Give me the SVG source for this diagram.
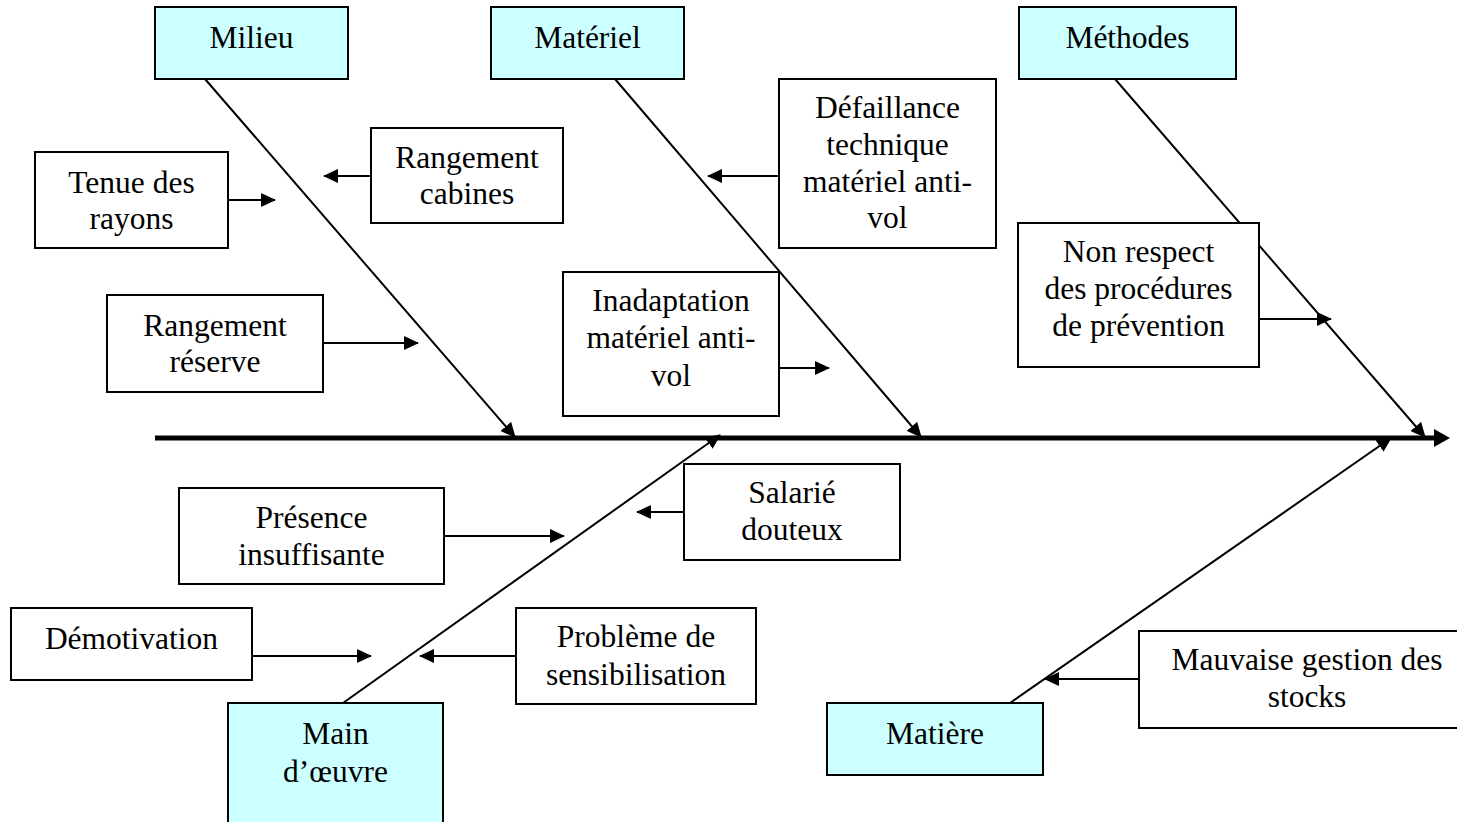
<svg xmlns="http://www.w3.org/2000/svg" width="1457" height="822" viewBox="0 0 1457 822">
<style>
.box{fill:#ffffff;stroke:#000;stroke-width:2}
.cat{fill:#ccffff;stroke:#000;stroke-width:2}
text{font-family:"Liberation Serif","Times New Roman",serif;font-size:31.5px;fill:#000;text-anchor:middle}
.br{stroke:#000;stroke-width:2;fill:none;marker-end:url(#ah)}
.sm{stroke:#000;stroke-width:2;fill:none;marker-end:url(#ah)}
</style>
<defs>
<marker id="ah" markerUnits="userSpaceOnUse" viewBox="0 0 15 14" refX="14" refY="7" markerWidth="15" markerHeight="14" orient="auto"><path d="M0,0 L15,7 L0,14 z" fill="#000"/></marker>
<marker id="big" markerUnits="userSpaceOnUse" viewBox="0 0 16 18" refX="2" refY="9" markerWidth="16" markerHeight="18" orient="auto"><path d="M0,0 L16,9 L0,18 z" fill="#000"/></marker>
</defs>
<rect width="1457" height="822" fill="#fff"/>
<g id="connectors">
<line x1="155" y1="438" x2="1436" y2="438" stroke="#000" stroke-width="5" marker-end="url(#big)"/>
<line class="br" x1="205" y1="79" x2="515" y2="437"/>
<line class="br" x1="615" y1="79" x2="921" y2="437"/>
<line class="br" x1="1115" y1="79" x2="1425" y2="437"/>
<line class="br" x1="343" y1="703" x2="720" y2="435"/>
<line class="br" x1="1010" y1="703" x2="1391" y2="438"/>
<line class="sm" x1="228" y1="200" x2="275" y2="200"/>
<line class="sm" x1="371" y1="176" x2="324" y2="176"/>
<line class="sm" x1="779" y1="176" x2="708" y2="176"/>
<line class="sm" x1="323" y1="343" x2="418" y2="343"/>
<line class="sm" x1="779" y1="368" x2="829" y2="368"/>
<line class="sm" x1="1259" y1="319" x2="1331" y2="319"/>
<line class="sm" x1="444" y1="536" x2="564" y2="536"/>
<line class="sm" x1="684" y1="512" x2="637" y2="512"/>
<line class="sm" x1="252" y1="656" x2="371" y2="656"/>
<line class="sm" x1="516" y1="656" x2="420" y2="656"/>
<line class="sm" x1="1139" y1="679" x2="1045" y2="679"/>
</g>
<g id="milieu"><rect class="cat" x="155" y="7" width="193" height="72"/><text x="251.5" y="48">Milieu</text></g>
<g id="materiel"><rect class="cat" x="491" y="7" width="193" height="72"/><text x="587.5" y="48">Matériel</text></g>
<g id="methodes"><rect class="cat" x="1019" y="7" width="217" height="72"/><text x="1127.5" y="48">Méthodes</text></g>
<g id="tenue"><rect class="box" x="35" y="152" width="193" height="96"/><text x="131.5" y="193">Tenue des</text><text x="131.5" y="229">rayons</text></g>
<g id="rangement-cabines"><rect class="box" x="371" y="128" width="192" height="95"/><text x="467" y="168">Rangement</text><text x="467" y="204">cabines</text></g>
<g id="defaillance"><rect class="box" x="779" y="79" width="217" height="169"/><text x="887.5" y="118">Défaillance</text><text x="887.5" y="155">technique</text><text x="887.5" y="192">matériel anti-</text><text x="887.5" y="228">vol</text></g>
<g id="rangement-reserve"><rect class="box" x="107" y="295" width="216" height="97"/><text x="215" y="336">Rangement</text><text x="215" y="372">réserve</text></g>
<g id="inadaptation"><rect class="box" x="563" y="272" width="216" height="144"/><text x="671" y="311">Inadaptation</text><text x="671" y="348">matériel anti-</text><text x="671" y="386">vol</text></g>
<g id="non-respect"><rect class="box" x="1018" y="223" width="241" height="144"/><text x="1138.5" y="262">Non respect</text><text x="1138.5" y="299">des procédures</text><text x="1138.5" y="336">de prévention</text></g>
<g id="presence"><rect class="box" x="179" y="488" width="265" height="96"/><text x="311.5" y="528">Présence</text><text x="311.5" y="565">insuffisante</text></g>
<g id="salarie"><rect class="box" x="684" y="464" width="216" height="96"/><text x="792" y="503">Salarié</text><text x="792" y="540">douteux</text></g>
<g id="demotivation"><rect class="box" x="11" y="608" width="241" height="72"/><text x="131.5" y="649">Démotivation</text></g>
<g id="probleme"><rect class="box" x="516" y="608" width="240" height="96"/><text x="636" y="647">Problème de</text><text x="636" y="685">sensibilisation</text></g>
<g id="main-oeuvre"><rect class="cat" x="228" y="703" width="215" height="130"/><text x="335.5" y="744">Main</text><text x="335.5" y="782">d’œuvre</text></g>
<g id="matiere"><rect class="cat" x="827" y="703" width="216" height="72"/><text x="935" y="744">Matière</text></g>
<g id="mauvaise"><rect class="box" x="1139" y="631" width="336" height="97"/><text x="1307" y="670">Mauvaise gestion des</text><text x="1307" y="707">stocks</text></g>
</svg>
